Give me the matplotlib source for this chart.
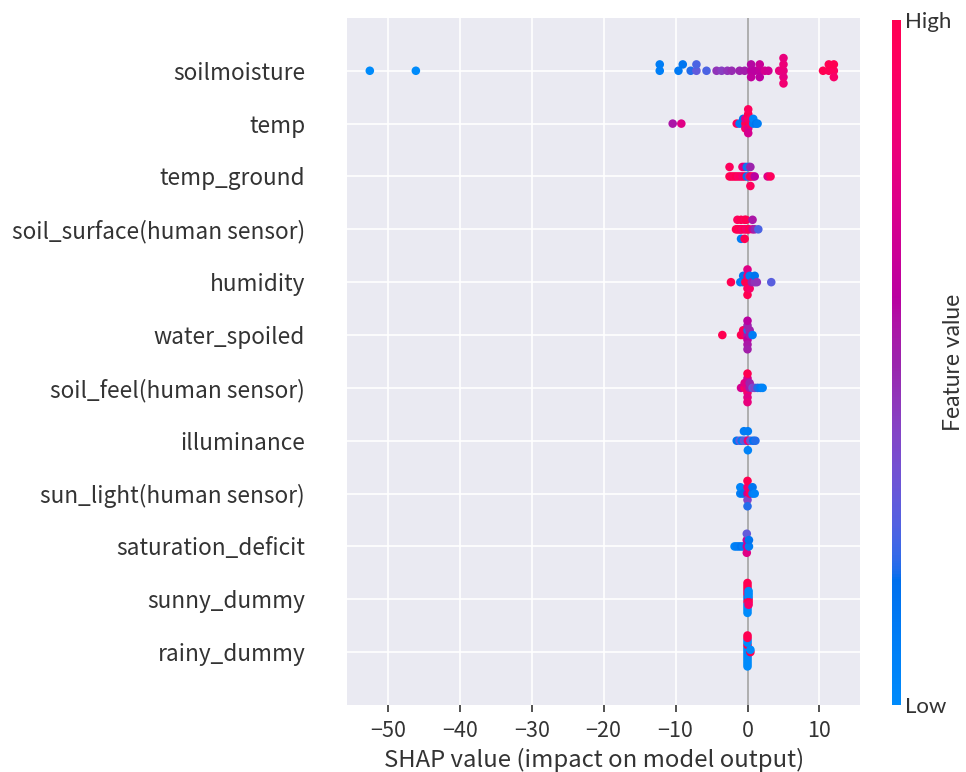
import numpy as np
import matplotlib
matplotlib.use('Agg')
import matplotlib.pyplot as plt
from matplotlib.colors import LinearSegmentedColormap
from matplotlib.cm import ScalarMappable

# features, top to bottom
features = ["soilmoisture", "temp", "temp_ground", "soil_surface(human sensor)",
            "humidity", "water_spoiled", "soil_feel(human sensor)", "illuminance",
            "sun_light(human sensor)", "saturation_deficit", "sunny_dummy", "rainy_dummy"]

# shap values and normalised feature values (0 = low, 1 = high) per feature
soilmoisture_shap = [-52.5, -46.1, -12.2, -12.2, -9.6, -9.0, -7.9, -7.1, -7.1, -5.7,
                     -4.3, -3.6, -2.8, -2.2, -1.1, -0.4, 0.5, 0.5, 0.5, 1.0,
                     1.7, 1.7, 1.7, 2.4, 2.9, 4.4, 5.0, 5.0, 5.0, 5.0, 5.0,
                     10.5, 11.3, 11.3, 12.0, 12.0, 12.0]
soilmoisture_val = [0.0, 0.0, 0.08, 0.1, 0.12, 0.15, 0.2, 0.3, 0.25, 0.25,
                    0.45, 0.42, 0.45, 0.48, 0.5, 0.52, 0.6, 0.58, 0.62, 0.6,
                    0.62, 0.65, 0.6, 0.7, 0.68, 0.8, 0.8, 0.82, 0.78, 0.8, 0.85,
                    1.0, 0.98, 1.0, 0.95, 1.0, 0.9]

temp_shap = [-10.4, -9.2, -1.5, -1.1, -0.6, -0.6, -0.3, -0.3, -0.3,
             0.1, 0.1, 0.1, 0.1, 0.1, 0.1, 0.4, 0.4, 0.8, 0.8, 1.2, 1.4]
temp_val = [0.55, 0.75, 0.95, 0.1, 0.1, 0.15, 1.0, 0.75, 0.9,
            1.0, 0.9, 0.75, 1.0, 0.7, 0.95, 0.95, 0.9, 0.1, 0.05, 0.15, 0.1]

temp_ground_shap = [-2.5, -2.5, -2.2, -1.9, -1.6, -1.3, -1.0, -0.7, -0.7, -0.4, -0.4,
                    -0.1, -0.1, 0.2, 0.2, 0.4, 0.4, 0.4, 0.7, 1.0, 2.8, 3.2]
temp_ground_val = [1.0, 0.95, 1.0, 0.95, 1.0, 0.9, 0.95, 0.85, 0.85, 1.0, 0.7,
                   0.15, 0.1, 0.45, 0.2, 1.0, 0.5, 0.95, 0.9, 0.6, 0.75, 0.95]

soil_surface_shap = [-1.6, -1.4, -1.4, -1.2, -1.0, -0.9, -0.9, -0.9, -0.7, -0.4, -0.4, -0.4,
                     -0.2, -0.2, 0.0, 0.2, 0.7, 0.7, 1.0, 1.5]
soil_surface_val = [1.0, 1.0, 0.95, 1.0, 0.95, 1.0, 1.0, 0.1, 0.9, 1.0, 0.95, 1.0,
                    0.9, 1.0, 0.85, 1.0, 0.7, 0.55, 0.5, 0.25]

humidity_shap = [-2.3, -1.0, -0.6, -0.6, -0.3, 0.0, 0.0, 0.0, 0.0, 0.0,
                 0.3, 0.3, 0.3, 0.6, 1.0, 1.0, 1.3, 3.3]
humidity_val = [1.0, 0.1, 0.05, 0.15, 1.0, 1.0, 0.85, 0.95, 0.75, 1.0,
                1.0, 0.1, 0.9, 0.5, 0.45, 0.15, 0.45, 0.28]

water_spoiled_shap = [-3.5, -0.9, -0.6, -0.6, -0.3, 0.0, 0.0, 0.0, 0.0, 0.0, 0.0, 0.0,
                      0.3, 0.3, 0.7]
water_spoiled_val = [1.0, 1.0, 1.0, 0.95, 0.9, 0.55, 0.2, 0.6, 0.5, 0.55, 0.6, 0.52,
                     0.55, 0.5, 0.1]

soil_feel_shap = [-0.9, -0.4, -0.4, 0.0, 0.0, 0.0, 0.0, 0.0, 0.0, 0.0,
                  0.3, 0.3, 0.7, 1.0, 1.4, 1.8, 2.1]
soil_feel_val = [0.7, 0.9, 0.75, 0.8, 0.75, 0.85, 0.7, 0.75, 1.0, 0.8,
                 0.55, 0.5, 0.35, 0.4, 0.2, 0.1, 0.05]

illuminance_shap = [-1.5, -1.1, -0.8, -0.5, -0.5, -0.2, 0.05, 0.05, 0.05, 0.4, 0.8, 1.1]
illuminance_val = [0.15, 0.3, 0.1, 0.3, 0.1, 0.25, 0.85, 0.1, 0.05, 0.3, 0.15, 0.2]

sun_light_shap = [-1.0, -1.0, -0.6, 0.0, 0.0, 0.0, 0.0, 0.0, 0.3, 0.7, 0.7, 1.0]
sun_light_val = [0.1, 0.05, 0.15, 0.65, 0.85, 0.4, 1.0, 0.2, 0.95, 0.1, 0.15, 0.05]

saturation_deficit_shap = [-1.8, -1.5, -1.2, -0.9, -0.6, -0.1, -0.1, -0.1, -0.1, 0.2, 0.2]
saturation_deficit_val = [0.05, 0.1, 0.1, 0.15, 0.1, 0.7, 0.65, 0.75, 0.3, 0.1, 0.15]

sunny_dummy_shap = [0.0] * 12 + [0.15] * 6
sunny_dummy_val = [0.0, 0.1, 1.0, 1.0, 0.0, 0.9, 0.0, 1.0, 0.0, 1.0, 0.0, 1.0,
                   1.0, 0.0, 1.0, 0.0, 0.9, 0.0]

rainy_dummy_shap = [0.0] * 14 + [0.4, 0.4]
rainy_dummy_val = [0.0, 0.0, 0.0, 0.0, 0.0, 1.0, 0.0, 0.0, 0.0, 0.0, 0.0, 1.0, 0.0, 1.0,
                   1.0, 0.0]

shap_rows = [soilmoisture_shap, temp_shap, temp_ground_shap, soil_surface_shap,
             humidity_shap, water_spoiled_shap, soil_feel_shap, illuminance_shap,
             sun_light_shap, saturation_deficit_shap, sunny_dummy_shap, rainy_dummy_shap]
val_rows = [soilmoisture_val, temp_val, temp_ground_val, soil_surface_val,
            humidity_val, water_spoiled_val, soil_feel_val, illuminance_val,
            sun_light_val, saturation_deficit_val, sunny_dummy_val, rainy_dummy_val]


def lch2rgb(l, c, h):
    a, b = c * np.cos(h), c * np.sin(h)
    fy = (l + 16) / 116
    f = np.array([fy + a / 500, fy, fy - b / 200])
    xyz = np.where(f > 6 / 29, f ** 3, (f - 16 / 116) * 3 * (6 / 29) ** 2)
    xyz = xyz * np.array([0.95047, 1.0, 1.08883])
    m = np.array([[3.2406, -1.5372, -0.4986],
                  [-0.9689, 1.8758, 0.0415],
                  [0.0557, -0.2040, 1.0570]])
    rgb = m @ xyz
    rgb = np.where(rgb > 0.0031308, 1.055 * np.abs(rgb) ** (1 / 2.4) - 0.055, 12.92 * rgb)
    return np.clip(rgb, 0, 1)


# shap's red_blue colormap (interpolated in LCH)
blue_lch = [54.0, 70.0, 4.6588]
red_lch = [54.0, 90.0, 0.35470565 + 2 * np.pi]
l_mid = 40.0
nsteps = 100
l_vals = list(np.linspace(blue_lch[0], l_mid, nsteps // 2)) + list(np.linspace(l_mid, red_lch[0], nsteps // 2))
c_vals = np.linspace(blue_lch[1], red_lch[1], nsteps)
h_vals = np.linspace(blue_lch[2], red_lch[2], nsteps)
cmap_colors = [lch2rgb(l, c, h) for l, c, h in zip(l_vals, c_vals, h_vals)]
red_blue = LinearSegmentedColormap.from_list('red_blue', cmap_colors)


def swarm_offsets(shaps, row_height=0.4, nbins=100):
    shaps = np.asarray(shaps, dtype=float)
    quant = np.round(nbins * (shaps - shaps.min()) / (shaps.max() - shaps.min() + 1e-8))
    inds = np.argsort(quant, kind='stable')
    layer = 0
    last_bin = -1
    ys = np.zeros(len(shaps))
    for ind in inds:
        if quant[ind] != last_bin:
            layer = 0
        ys[ind] = np.ceil(layer / 2) * ((layer % 2) * 2 - 1)
        layer += 1
        last_bin = quant[ind]
    ys *= 0.9 * (row_height / np.max(ys + 1))
    return ys


text_color = '#333333'
tick_font = 'Noto Sans CJK JP'

fig = plt.figure(figsize=(9.66, 7.72), dpi=100)
ax = fig.add_axes([0.359, 0.0868, 0.531, 0.890])
ax.set_facecolor('#EAEAF2')
for s in ax.spines.values():
    s.set_visible(False)
ax.grid(True, color='white', linewidth=1.2, zorder=0)
ax.set_axisbelow(True)
ax.axvline(0, color='#999999', linewidth=1.1, zorder=1)

n = len(features)
for i, (sh, v) in enumerate(zip(shap_rows, val_rows)):
    pos = n - 1 - i
    ys = swarm_offsets(sh)
    ax.scatter(sh, pos + ys, c=v, cmap=red_blue, vmin=0, vmax=1, s=38,
               linewidth=0, zorder=3)

ax.set_xlim(-55.7, 15.6)
ax.set_ylim(-1, n)
ax.set_xticks([-50, -40, -30, -20, -10, 0, 10])
ax.set_yticks(range(n))
ax.set_yticklabels(features[::-1], fontsize=16.3, family=tick_font, color=text_color)
ax.tick_params('y', length=0, pad=30)
ax.tick_params('x', length=5, width=1.2, color=text_color, labelcolor=text_color,
               labelsize=15.5, pad=6)
for t in ax.get_xticklabels():
    t.set_family(tick_font)
ax.set_xlabel('SHAP value (impact on model output)', fontsize=17.2,
              family=tick_font, color=text_color, labelpad=3)
ax.xaxis.set_label_coords(0.482, -0.062)

cax = fig.add_axes([892 / 966, 67 / 772, 9 / 966, 685 / 772])
sm = ScalarMappable(cmap=red_blue)
sm.set_array([0, 1])
cb = fig.colorbar(sm, cax=cax, ticks=[0, 1])
cb.set_ticklabels(['Low', 'High'])
cb.outline.set_visible(False)
cax.tick_params(length=0, labelsize=16, labelcolor=text_color, pad=3)
for t in cax.get_yticklabels():
    t.set_family('Lato')
cb.set_label('Feature value', size=16.5, family='Lato', color=text_color, labelpad=-6)

fig.savefig('out.png', dpi=100)
